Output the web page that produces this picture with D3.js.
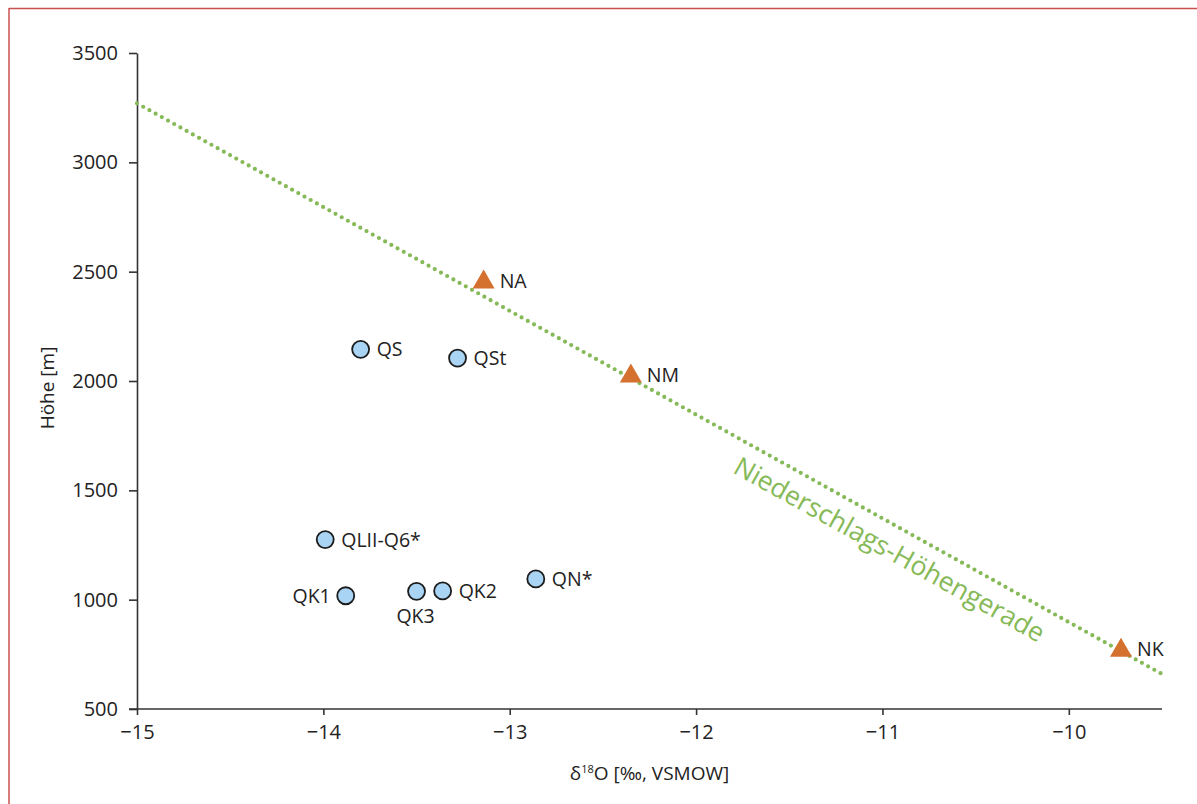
<!DOCTYPE html>
<html lang="de">
<head>
	<meta charset="utf-8">
	<title>Höhe vs. δ18O</title>
	<style type="text/css">
		html, body { margin: 0; padding: 0; background: #fff; }
		body { font-family: "Open Sans", "Noto Sans", sans-serif; color: #222; }
		svg text { fill: #222; }
	</style>
</head>
<body>
	<svg id="chart"></svg>

	<script src="https://cdnjs.cloudflare.com/ajax/libs/d3/7.8.5/d3.min.js"></script>
	<script type="text/javascript">
		// Quellen (Kreise)
		var springNames = ["QS", "QSt", "QLII-Q6*", "QK1", "QK3", "QK2", "QN*"];
		var springD18O = [-13.80, -13.28, -13.99, -13.88, -13.50, -13.36, -12.86];
		var springHeight = [2145, 2105, 1275, 1018, 1038, 1040, 1095];

		// Niederschlag (Dreiecke)
		var precipNames = ["NA", "NM", "NK"];
		var precipD18O = [-13.14, -12.35, -9.72];
		var precipHeight = [2452, 2022, 768];

		// Niederschlags-Höhengerade
		var lineD18O = [-15, -9.5];
		var lineHeight = [3270, 660];

		var xTicks = [-15, -14, -13, -12, -11, -10];
		var yTicks = [500, 1000, 1500, 2000, 2500, 3000, 3500];

		// where the label sits relative to its mark
		var labelSide = { "QK1": "left", "QK3": "below" };

		var W = 1197, H = 804;
		var svg = d3.select("#chart").attr("width", W).attr("height", H);

		// frame (top and left only)
		svg.append("line").attr("x1", 9).attr("x2", W).attr("y1", 8.5).attr("y2", 8.5)
			.attr("stroke", "#c8504f").attr("stroke-width", 1.5);
		svg.append("line").attr("x1", 9).attr("x2", 9).attr("y1", 8).attr("y2", H)
			.attr("stroke", "#c8504f").attr("stroke-width", 1.5);

		var x = d3.scaleLinear().domain([-15, -9.5]).range([137, 1162]);
		var y = d3.scaleLinear().domain([500, 3500]).range([709, 53]);

		var minus = function (d) { return d < 0 ? "\u2212" + Math.abs(d) : d; };

		var xAxis = svg.append("g")
			.attr("transform", "translate(0," + y(500) + ")")
			.call(d3.axisBottom(x).tickValues(xTicks).tickFormat(minus)
				.tickSizeInner(6).tickSizeOuter(0).tickPadding(10));
		var yAxis = svg.append("g")
			.attr("transform", "translate(" + x(-15) + ",0)")
			.call(d3.axisLeft(y).tickValues(yTicks).tickFormat(d3.format("d"))
				.tickSizeInner(8).tickSizeOuter(0).tickPadding(11));

		[xAxis, yAxis].forEach(function (g) {
			g.select(".domain").attr("stroke", "#333").attr("stroke-width", 1.6);
			g.selectAll(".tick line").attr("stroke", "#333").attr("stroke-width", 1.6);
			g.selectAll(".tick text").attr("font-size", 20)
				.attr("font-family", "'Open Sans', sans-serif").attr("fill", "#222");
		});
		// extend x axis domain slightly left to meet the y tick
		xAxis.select(".domain").attr("d", "M" + (x(-15) - 8) + ",0H" + x(-9.5));

		// axis titles
		var xt = svg.append("text")
			.attr("x", (x(-15) + x(-9.5)) / 2)
			.attr("y", 780)
			.attr("text-anchor", "middle")
			.attr("font-size", 19);
		xt.append("tspan").text("δ");
		xt.append("tspan").attr("font-size", 11).attr("dy", -7).text("18");
		xt.append("tspan").attr("dy", 7).text("O [‰, VSMOW]");

		svg.append("text")
			.attr("transform", "translate(54," + 388 + ") rotate(-90)")
			.attr("text-anchor", "middle")
			.attr("font-size", 19)
			.text("Höhe [m]");

		// dotted regression line
		var lineData = lineD18O.map(function (d, i) { return [d, lineHeight[i]]; });
		svg.append("path")
			.datum(lineData)
			.attr("d", d3.line().x(function (d) { return x(d[0]); }).y(function (d) { return y(d[1]); }))
			.attr("fill", "none")
			.attr("stroke", "#86b957")
			.attr("stroke-width", 4.2)
			.attr("stroke-linecap", "round")
			.attr("stroke-dasharray", "0 7.1");

		// rotated line label
		var ang = Math.atan2(y(lineHeight[1]) - y(lineHeight[0]), x(lineD18O[1]) - x(lineD18O[0])) * 180 / Math.PI;
		var midX = -10.9;
		var t = (midX - lineD18O[0]) / (lineD18O[1] - lineD18O[0]);
		var midY = lineHeight[0] + t * (lineHeight[1] - lineHeight[0]);
		svg.append("text")
			.attr("transform", "translate(" + x(midX) + "," + y(midY) + ") rotate(" + ang + ") translate(0,33)")
			.attr("text-anchor", "middle")
			.attr("font-size", 26.5)
			.style("fill", "#86b957")
			.text("Niederschlags-Höhengerade");

		// springs
		var springs = springNames.map(function (n, i) {
			return { name: n, x: springD18O[i], y: springHeight[i] };
		});
		var sg = svg.append("g").selectAll("g").data(springs).join("g")
			.attr("transform", function (d) { return "translate(" + x(d.x) + "," + y(d.y) + ")"; });
		sg.append("circle").attr("r", 8.5)
			.attr("fill", "#a9d4f3").attr("stroke", "#1c1c1c").attr("stroke-width", 1.8);
		sg.append("text")
			.attr("font-size", 19.5)
			.attr("text-anchor", function (d) {
				var s = labelSide[d.name];
				return s === "left" ? "end" : s === "below" ? "middle" : "start";
			})
			.attr("x", function (d) {
				var s = labelSide[d.name];
				return s === "left" ? -15 : s === "below" ? -1 : 16;
			})
			.attr("y", function (d) { return labelSide[d.name] === "below" ? 32 : 7; })
			.text(function (d) { return d.name; });

		// precipitation
		var precip = precipNames.map(function (n, i) {
			return { name: n, x: precipD18O[i], y: precipHeight[i] };
		});
		var pg = svg.append("g").selectAll("g").data(precip).join("g")
			.attr("transform", function (d) { return "translate(" + x(d.x) + "," + y(d.y) + ")"; });
		pg.append("path")
			.attr("d", d3.symbol().type(d3.symbolTriangle).size(210))
			.attr("fill", "#d5712f");
		pg.append("text")
			.attr("font-size", 19.5)
			.attr("x", 16)
			.attr("y", 6)
			.text(function (d) { return d.name; });
	</script>
</body>
</html>
